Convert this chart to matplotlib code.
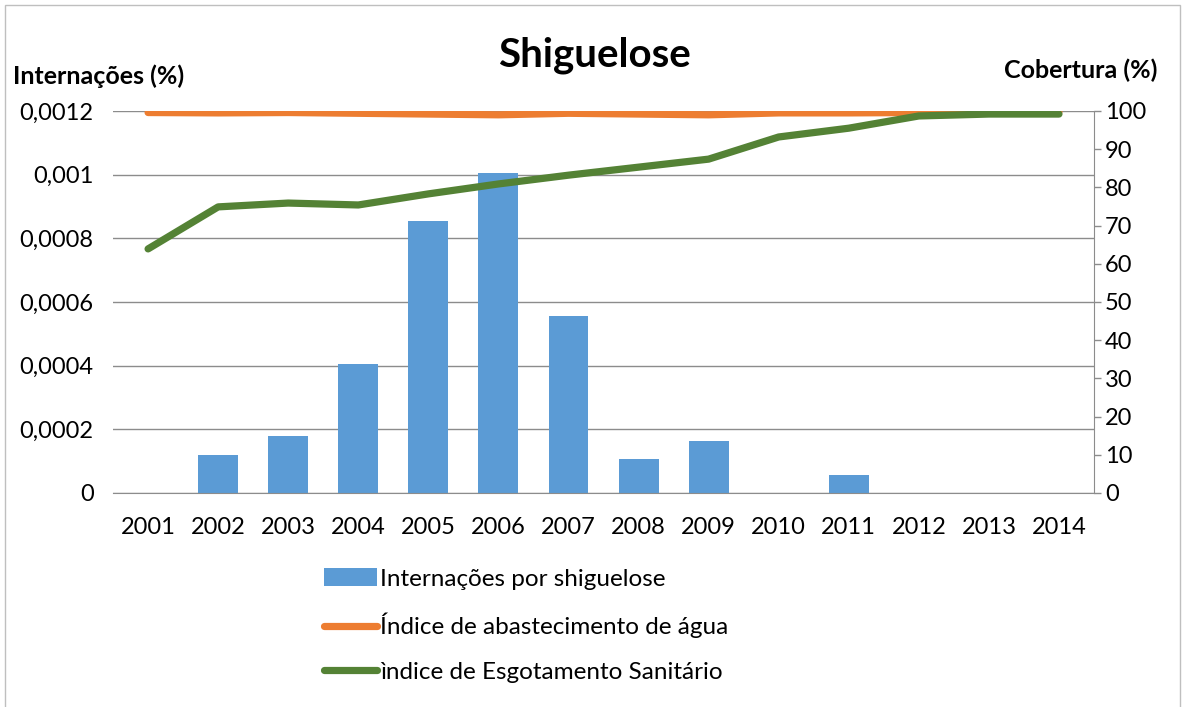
import matplotlib
matplotlib.use("Agg")
import matplotlib.pyplot as plt
from matplotlib.lines import Line2D
from matplotlib.patches import Patch, Rectangle
from matplotlib.ticker import FuncFormatter, MultipleLocator

plt.rcParams["font.family"] = ["Lato", "DejaVu Sans"]

# dados
anos = ["2001", "2002", "2003", "2004", "2005", "2006", "2007",
        "2008", "2009", "2010", "2011", "2012", "2013", "2014"]
internacoes = [0, 0.000119, 0.000179, 0.000405, 0.000854, 0.001005, 0.000556,
               0.000107, 0.000163, 0, 0.0000565, 0, 0, 0]
agua = [99.6, 99.5, 99.6, 99.4, 99.2, 99.0, 99.4,
        99.2, 99.0, 99.5, 99.5, 99.6, 99.7, 99.8]
esgoto = [63.9, 74.9, 75.9, 75.4, 78.3, 80.9, 83.2,
          85.3, 87.4, 93.2, 95.5, 98.7, 99.2, 99.2]

AZUL = "#5B9BD5"
LARANJA = "#ED7D31"
VERDE = "#548235"
CINZA = "#8c8c8c"

fig = plt.figure(figsize=(11.85, 7.07), dpi=100)
ax = fig.add_axes([0.0954, 0.3027, 0.8278, 0.5403])
ax2 = ax.twinx()

x = list(range(len(anos)))
ax.bar(x, internacoes, width=0.57, color=AZUL, zorder=2)
ax.set_ylim(0, 0.0012)
ax.set_xlim(-0.5, len(anos) - 0.5)
ax.yaxis.set_major_locator(MultipleLocator(0.0002))
ax.yaxis.set_major_formatter(FuncFormatter(lambda v, p: f"{round(v, 6):g}".replace(".", ",")))
ax.grid(axis="y", color=CINZA, lw=1, zorder=0)
ax.set_axisbelow(True)
ax.set_xticks(x)
ax.set_xticklabels(anos)
ax.tick_params(axis="x", length=0, pad=17, labelsize=17)
ax.tick_params(axis="y", length=0, pad=14, labelsize=17)
for s in ["top", "left", "right"]:
    ax.spines[s].set_visible(False)
ax.spines["bottom"].set_color(CINZA)

ax2.plot(x, agua, color=LARANJA, lw=5.2, solid_capstyle="round", zorder=3)
ax2.plot(x, esgoto, color=VERDE, lw=5.2, solid_capstyle="round", zorder=4)
ax2.set_ylim(0, 100)
ax2.yaxis.set_major_locator(MultipleLocator(10))
ax2.tick_params(axis="y", length=5, width=1, color=CINZA, pad=3, labelsize=17)
for s in ["top", "left", "bottom"]:
    ax2.spines[s].set_visible(False)
ax2.spines["right"].set_color(CINZA)

fig.text(0.502, 0.922, "Shiguelose", ha="center", va="center",
         fontsize=29, fontweight="bold")
fig.text(0.0835, 0.892, "Internações (%)", ha="center", va="center",
         fontsize=18, fontweight="bold")
fig.text(0.912, 0.901, "Cobertura (%)", ha="center", va="center",
         fontsize=18, fontweight="bold")

handles = [
    Patch(facecolor=AZUL, edgecolor="none", label="Internações por shiguelose"),
    Line2D([], [], color=LARANJA, lw=5.2, solid_capstyle="round",
           label="Índice de abastecimento de água"),
    Line2D([], [], color=VERDE, lw=5.2, solid_capstyle="round",
           label="ìndice de Esgotamento Sanitário"),
]
fig.legend(handles=handles, loc="upper left", bbox_to_anchor=(0.265, 0.21),
           frameon=False, fontsize=17.5, handlelength=2.2, handleheight=0.75,
           handletextpad=0.12, labelspacing=0.95, borderaxespad=0)

fig.add_artist(Rectangle((0.004, -0.01), 0.992, 1.003, transform=fig.transFigure,
                         fill=False, edgecolor="#bfbfbf", lw=1))

fig.savefig("out.png", dpi=100)
